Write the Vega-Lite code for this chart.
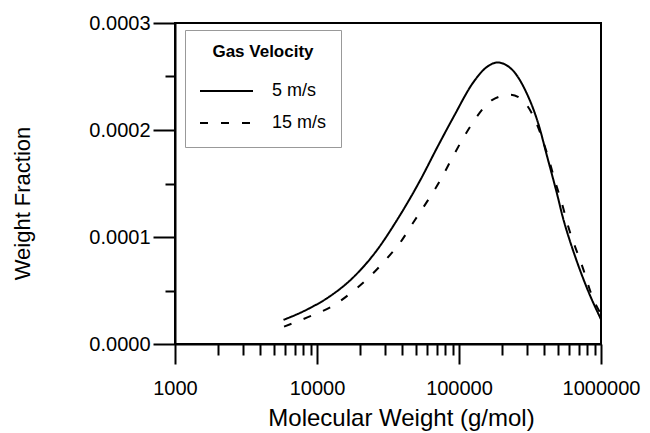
{
  "$schema": "https://vega.github.io/schema/vega-lite/v6.json",
  "autosize": {"type": "none"},
  "padding": {"left": 175, "top": 23, "right": 49, "bottom": 89},
  "width": 426,
  "height": 321,
  "config": {
    "font": "Liberation Sans",
    "view": {"stroke": "black", "strokeWidth": 2},
    "axis": {
      "grid": false,
      "domainColor": "black",
      "domainWidth": 2,
      "tickColor": "black",
      "tickWidth": 2,
      "labelColor": "black",
      "titleColor": "black",
      "labelFont": "Liberation Sans",
      "titleFont": "Liberation Sans",
      "titleFontWeight": "normal",
      "labelOverlap": false,
      "labelBound": false,
      "labelFlush": false
    },
    "legend": {
      "labelFont": "Liberation Sans",
      "titleFont": "Liberation Sans"
    }
  },
  "data": {
    "values": [
      {"mw": 5810, "wf": 0.0000225, "series": "5 m/s"},
      {"mw": 8500, "wf": 0.0000322, "series": "5 m/s"},
      {"mw": 12050, "wf": 0.0000437, "series": "5 m/s"},
      {"mw": 18070, "wf": 0.0000625, "series": "5 m/s"},
      {"mw": 26370, "wf": 0.0000875, "series": "5 m/s"},
      {"mw": 36500, "wf": 0.0001156, "series": "5 m/s"},
      {"mw": 53300, "wf": 0.000153, "series": "5 m/s"},
      {"mw": 69800, "wf": 0.000183, "series": "5 m/s"},
      {"mw": 91800, "wf": 0.0002125, "series": "5 m/s"},
      {"mw": 126800, "wf": 0.000245, "series": "5 m/s"},
      {"mw": 157400, "wf": 0.000259, "series": "5 m/s"},
      {"mw": 187000, "wf": 0.0002631, "series": "5 m/s"},
      {"mw": 242000, "wf": 0.000255, "series": "5 m/s"},
      {"mw": 270000, "wf": 0.000246, "series": "5 m/s"},
      {"mw": 300500, "wf": 0.000234, "series": "5 m/s"},
      {"mw": 335000, "wf": 0.000219, "series": "5 m/s"},
      {"mw": 363600, "wf": 0.000205, "series": "5 m/s"},
      {"mw": 416000, "wf": 0.000176, "series": "5 m/s"},
      {"mw": 489500, "wf": 0.0001406, "series": "5 m/s"},
      {"mw": 545600, "wf": 0.0001156, "series": "5 m/s"},
      {"mw": 591800, "wf": 0.0001, "series": "5 m/s"},
      {"mw": 659000, "wf": 0.0000814, "series": "5 m/s"},
      {"mw": 796000, "wf": 0.0000523, "series": "5 m/s"},
      {"mw": 1000000, "wf": 0.000023, "series": "5 m/s"},
      {"mw": 5860, "wf": 0.0000163, "series": "15 m/s"},
      {"mw": 9190, "wf": 0.0000266, "series": "15 m/s"},
      {"mw": 12700, "wf": 0.000035, "series": "15 m/s"},
      {"mw": 17580, "wf": 0.0000484, "series": "15 m/s"},
      {"mw": 23070, "wf": 0.0000619, "series": "15 m/s"},
      {"mw": 30200, "wf": 0.0000781, "series": "15 m/s"},
      {"mw": 39540, "wf": 0.0000969, "series": "15 m/s"},
      {"mw": 47900, "wf": 0.000114, "series": "15 m/s"},
      {"mw": 59400, "wf": 0.0001328, "series": "15 m/s"},
      {"mw": 73800, "wf": 0.000153, "series": "15 m/s"},
      {"mw": 89100, "wf": 0.0001734, "series": "15 m/s"},
      {"mw": 107800, "wf": 0.0001931, "series": "15 m/s"},
      {"mw": 133700, "wf": 0.0002125, "series": "15 m/s"},
      {"mw": 170700, "wf": 0.000228, "series": "15 m/s"},
      {"mw": 230000, "wf": 0.000233, "series": "15 m/s"},
      {"mw": 270000, "wf": 0.0002297, "series": "15 m/s"},
      {"mw": 326000, "wf": 0.0002156, "series": "15 m/s"},
      {"mw": 427600, "wf": 0.0001734, "series": "15 m/s"},
      {"mw": 476000, "wf": 0.0001516, "series": "15 m/s"},
      {"mw": 531000, "wf": 0.0001313, "series": "15 m/s"},
      {"mw": 580000, "wf": 0.0001125, "series": "15 m/s"},
      {"mw": 755000, "wf": 0.0000688, "series": "15 m/s"},
      {"mw": 862000, "wf": 0.0000453, "series": "15 m/s"},
      {"mw": 1000000, "wf": 0.000028, "series": "15 m/s"}
    ]
  },
  "mark": {"type": "line", "color": "black", "strokeWidth": 2, "clip": true, "interpolate": "monotone"},
  "encoding": {
    "x": {
      "field": "mw",
      "type": "quantitative",
      "scale": {"type": "log", "domain": [1000, 1000000], "nice": false},
      "axis": {
        "title": "Molecular Weight (g/mol)",
        "titleFontSize": 24,
        "titlePadding": 8,
        "titleX": 226,
        "labelFontSize": 20,
        "labelPadding": 14,
        "values": [1000, 2000, 3000, 4000, 5000, 6000, 7000, 8000, 9000, 10000, 20000, 30000, 40000, 50000, 60000, 70000, 80000, 90000, 100000, 200000, 300000, 400000, 500000, 600000, 700000, 800000, 900000, 1000000],
        "labelExpr": "indexof([1000, 10000, 100000, 1000000], datum.value) >= 0 ? format(datum.value, 'd') : ''",
        "tickSize": {"condition": {"test": "indexof([1000, 10000, 100000, 1000000], datum.value) >= 0", "value": 20}, "value": 11}
      }
    },
    "y": {
      "field": "wf",
      "type": "quantitative",
      "scale": {"domain": [0, 0.0003], "nice": false},
      "axis": {
        "title": "Weight Fraction",
        "titleFontSize": 22,
        "titlePadding": 54,
        "titleY": 180,
        "labelFontSize": 20,
        "labelPadding": 3,
        "values": [0, 0.00005, 0.0001, 0.00015, 0.0002, 0.00025, 0.0003],
        "labelExpr": "round(datum.value * 20000) % 2 == 0 ? format(datum.value, '.4f') : ''",
        "tickSize": {"condition": {"test": "round(datum.value * 20000) % 2 == 0", "value": 22}, "value": 10}
      }
    },
    "strokeDash": {
      "field": "series",
      "type": "nominal",
      "scale": {"domain": ["5 m/s", "15 m/s"], "range": [[1, 0], [8, 13]]},
      "legend": {
        "title": "Gas Velocity",
        "orient": "none",
        "legendX": 10,
        "legendY": 7,
        "padding": 14,
        "strokeColor": "#999999",
        "fillColor": "white",
        "titleFontSize": 17,
        "titleFontWeight": "bold",
        "titleColor": "black",
        "titleAnchor": "middle",
        "titlePadding": 20,
        "labelFontSize": 18,
        "labelColor": "black",
        "labelOffset": 18,
        "symbolType": "stroke",
        "symbolSize": 2809,
        "symbolStrokeWidth": 2,
        "symbolStrokeColor": "black",
        "clipHeight": 20,
        "rowPadding": 12
      }
    }
  }
}
